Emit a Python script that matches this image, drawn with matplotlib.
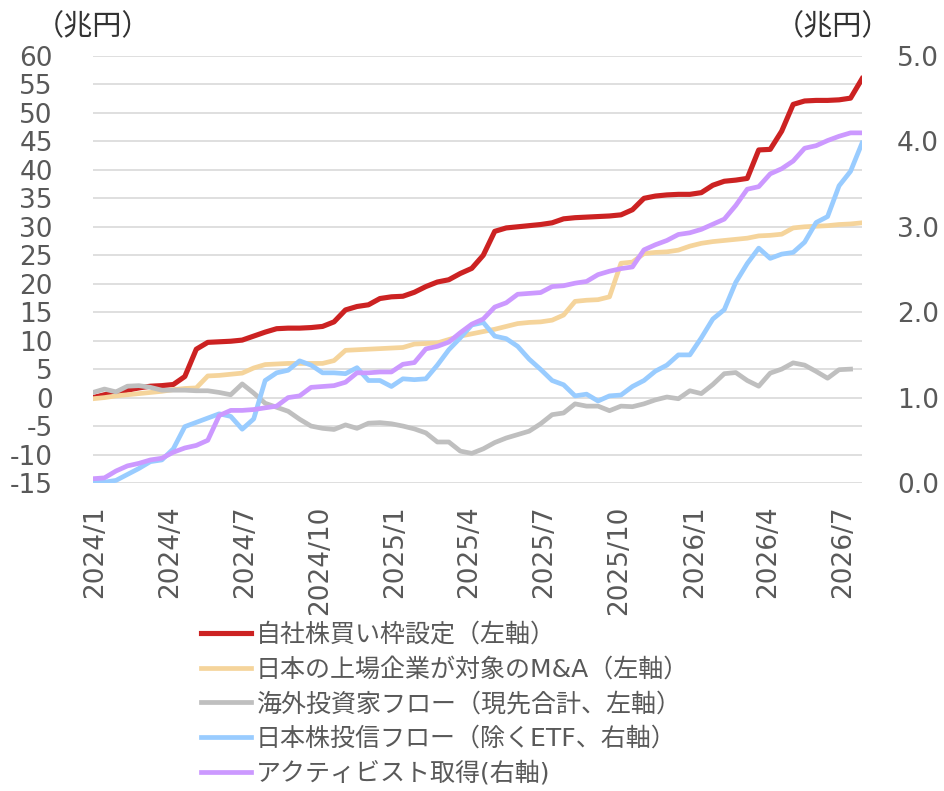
import numpy as np
import pandas as pd
import matplotlib
matplotlib.use('Agg')
import matplotlib.pyplot as plt
import matplotlib.ticker as mticker

plt.rcParams['font.family'] = ['DejaVu Sans', 'Noto Sans CJK JP']
plt.rcParams['axes.unicode_minus'] = False

# biweekly observations
dates = pd.date_range('2023-12-29', periods=68, freq='14D')

# left axis (兆円)
buyback = [0.0, 0.5, 0.9, 1.3, 1.7, 2.0, 2.1, 2.3, 3.7, 8.5,
           9.7, 9.8, 9.9, 10.1, 10.8, 11.5, 12.1, 12.2, 12.2, 12.3,
           12.5, 13.3, 15.4, 16.0, 16.3, 17.4, 17.7, 17.8, 18.5, 19.5,
           20.3, 20.7, 21.8, 22.7, 25.0, 29.2, 29.8, 30.0, 30.2, 30.4,
           30.7, 31.4, 31.6, 31.7, 31.8, 31.9, 32.1, 33.0, 35.0, 35.4,
           35.6, 35.7, 35.7, 36.0, 37.3, 38.0, 38.2, 38.5, 43.5, 43.6,
           46.8, 51.5, 52.1, 52.2, 52.2, 52.3, 52.6, 56.0]
ma_deals = [-0.2, 0.0, 0.3, 0.5, 0.7, 0.9, 1.1, 1.4, 1.6, 1.7,
            3.8, 3.9, 4.1, 4.3, 5.2, 5.8, 5.9, 6.0, 6.0, 6.0,
            6.0, 6.5, 8.3, 8.4, 8.5, 8.6, 8.7, 8.8, 9.4, 9.5,
            9.6, 10.2, 10.8, 11.2, 11.6, 12.0, 12.5, 13.0, 13.2, 13.3,
            13.6, 14.5, 16.9, 17.1, 17.2, 17.7, 23.6, 23.8, 25.3, 25.5,
            25.6, 25.9, 26.6, 27.1, 27.4, 27.6, 27.8, 28.0, 28.4, 28.5,
            28.7, 29.8, 30.0, 30.1, 30.2, 30.4, 30.5, 30.7]
foreign = [0.9, 1.5, 1.0, 2.0, 2.1, 1.8, 1.3, 1.3, 1.3, 1.2,
           1.2, 0.9, 0.5, 2.4, 0.8, -1.0, -1.7, -2.4, -3.8, -5.0,
           -5.4, -5.6, -4.8, -5.4, -4.5, -4.4, -4.6, -5.0, -5.5, -6.2,
           -7.8, -7.8, -9.4, -9.8, -9.0, -7.9, -7.1, -6.5, -5.9, -4.6,
           -3.0, -2.7, -1.1, -1.5, -1.5, -2.3, -1.5, -1.6, -1.1, -0.4,
           0.1, -0.2, 1.2, 0.7, 2.3, 4.2, 4.4, 3.0, 2.0, 4.3,
           5.0, 6.1, 5.7, 4.6, 3.4, 4.9, 5.0, np.nan]

# right axis (兆円)
fund_flow = [0.01, 0.01, 0.03, 0.10, 0.17, 0.25, 0.27, 0.40, 0.66, 0.71,
             0.76, 0.81, 0.78, 0.63, 0.75, 1.20, 1.29, 1.32, 1.43, 1.38,
             1.29, 1.29, 1.28, 1.35, 1.20, 1.20, 1.13, 1.22, 1.21, 1.22,
             1.38, 1.56, 1.70, 1.85, 1.88, 1.72, 1.69, 1.60, 1.45, 1.33,
             1.20, 1.15, 1.02, 1.04, 0.96, 1.02, 1.03, 1.13, 1.20, 1.31,
             1.38, 1.50, 1.50, 1.70, 1.92, 2.03, 2.35, 2.57, 2.75, 2.63,
             2.68, 2.70, 2.82, 3.05, 3.12, 3.48, 3.65, 3.98]
activist = [0.05, 0.06, 0.14, 0.20, 0.23, 0.27, 0.29, 0.36, 0.41, 0.44,
            0.50, 0.79, 0.85, 0.85, 0.86, 0.88, 0.90, 1.00, 1.02, 1.12,
            1.13, 1.14, 1.18, 1.29, 1.29, 1.30, 1.30, 1.39, 1.41, 1.57,
            1.60, 1.65, 1.76, 1.86, 1.92, 2.06, 2.11, 2.21, 2.22, 2.23,
            2.30, 2.31, 2.34, 2.36, 2.44, 2.48, 2.51, 2.53, 2.73, 2.79,
            2.84, 2.91, 2.93, 2.97, 3.03, 3.09, 3.25, 3.44, 3.47, 3.62,
            3.68, 3.77, 3.92, 3.95, 4.01, 4.06, 4.10, 4.10]

labels = ['自社株買い枠設定（左軸）',
          '日本の上場企業が対象のM&A（左軸）',
          '海外投資家フロー（現先合計、左軸）',
          '日本株投信フロー（除くETF、右軸）',
          'アクティビスト取得(右軸)']

tick_dates = pd.date_range('2024-01-01', '2026-07-01', freq='QS')
tick_labels = ['{}/{}'.format(d.year, d.month) for d in tick_dates]

txt = '#595959'

fig = plt.figure(figsize=(9.45, 7.91), dpi=100)
ax = fig.add_axes([0.0984, 0.3894, 0.8138, 0.5398])
ax2 = ax.twinx()

l1, = ax.plot(dates, buyback, color='#CC2222', lw=3.7, label=labels[0])
l2, = ax.plot(dates, ma_deals, color='#F5D49B', lw=3.4, label=labels[1])
l3, = ax.plot(dates, foreign, color='#BFBFBF', lw=3.4, label=labels[2])
l4, = ax2.plot(dates, fund_flow, color='#99CCFF', lw=3.4, label=labels[3])
l5, = ax2.plot(dates, activist, color='#CC99FF', lw=3.4, label=labels[4])

ax.set_xlim(dates[0], dates[-1])
ax.set_ylim(-15, 60)
ax.set_yticks(range(-15, 61, 5))
ax2.set_ylim(0, 5)
ax2.set_yticks(np.arange(0, 5.01, 1))
ax2.yaxis.set_major_formatter(mticker.FormatStrFormatter('%.1f'))

ax.set_xticks(tick_dates)
ax.set_xticklabels(tick_labels, rotation=90)

ax.grid(axis='y', color='#D9D9D9', lw=1.2)
ax.set_axisbelow(True)
for a in (ax, ax2):
    for s in a.spines.values():
        s.set_visible(False)
ax.tick_params(axis='y', length=0, pad=29, labelsize=19, labelcolor=txt)
ax.tick_params(axis='x', length=0, pad=16, labelsize=19, labelcolor=txt)
ax2.tick_params(axis='y', length=0, pad=25, labelsize=19, labelcolor=txt)

fig.text(93 / 945, 1 - 27 / 791, '（兆円）', ha='center', va='center', fontsize=21, color='#333333')
fig.text(833 / 945, 1 - 27 / 791, '（兆円）', ha='center', va='center', fontsize=21, color='#333333')

fig.legend([l1, l2, l3, l4, l5], labels, loc='upper left',
           bbox_to_anchor=(201 / 945, 1 - 623 / 791), frameon=False,
           fontsize=18, labelcolor=txt, handlelength=2.0, handletextpad=0.2,
           labelspacing=0.42, borderpad=0, borderaxespad=0)

fig.savefig('out.png', dpi=100)
